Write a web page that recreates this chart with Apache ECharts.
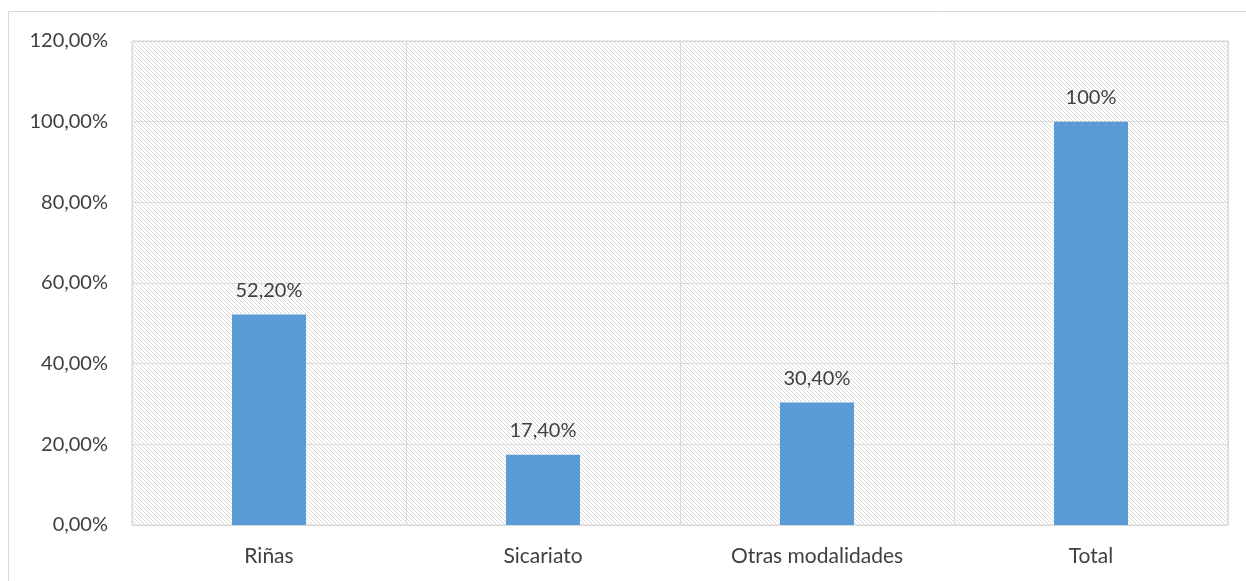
<!DOCTYPE html>
<html>
<head>
<meta charset="utf-8">
<script src="https://cdn.jsdelivr.net/npm/echarts@6/dist/echarts.min.js"></script>
<style>html,body{margin:0;padding:0;background:#fff}#c{width:1246px;height:581px}</style>
</head>
<body>
<div id="c"></div>
<script>
const categories = ['Riñas', 'Sicariato', 'Otras modalidades', 'Total'];
const values = [52.2, 17.4, 30.4, 100];
const valueLabels = ['52,20%', '17,40%', '30,40%', '100%'];
const yTicks = [0, 20, 40, 60, 80, 100, 120];

function makePattern() {
  const c = document.createElement('canvas');
  c.width = 4; c.height = 4;
  const ctx = c.getContext('2d');
  ctx.fillStyle = '#ffffff';
  ctx.fillRect(0, 0, 4, 4);
  ctx.fillStyle = '#d8d8d8';
  for (let i = 0; i < 4; i++) ctx.fillRect(i, i, 1, 1);
  return c;
}

const chart = echarts.init(document.getElementById('c'), null, {renderer: 'canvas'});
const font = 'Lato, "Open Sans", sans-serif';
chart.setOption({
  animation: false,
  graphic: [{
    type: 'rect', z: -10, silent: true,
    shape: {x: 8.5, y: 11.5, width: 1400, height: 700},
    style: {fill: 'none', stroke: '#d9d9d9', lineWidth: 1}
  }],
  grid: {
    left: 132, top: 41, width: 1096, height: 484,
    show: true,
    backgroundColor: {image: makePattern(), repeat: 'repeat'},
    borderColor: '#d9d9d9', borderWidth: 1
  },
  xAxis: {
    type: 'category',
    data: categories,
    axisLine: {show: true, lineStyle: {color: '#d9d9d9', width: 1}},
    axisTick: {show: false},
    splitLine: {show: true, lineStyle: {color: '#d9d9d9', width: 1}},
    axisLabel: {color: '#404040', fontSize: 21, fontFamily: font, margin: 21}
  },
  yAxis: {
    type: 'value',
    min: 0, max: 120, interval: 20,
    axisLine: {show: false},
    axisTick: {show: false},
    splitLine: {show: true, lineStyle: {color: '#d9d9d9', width: 1}},
    axisLabel: {
      color: '#404040', fontSize: 20, fontFamily: font, margin: 24,
      formatter: v => yTicks.includes(v) ? v.toFixed(2).replace('.', ',') + '%' : ''
    }
  },
  series: [{
    type: 'bar',
    data: values,
    barWidth: 74,
    itemStyle: {color: '#5b9bd5'},
    label: {
      show: true, position: 'top', distance: 14,
      color: '#404040', fontSize: 20, fontFamily: font,
      formatter: p => valueLabels[p.dataIndex]
    }
  }]
});
</script>
</body>
</html>
